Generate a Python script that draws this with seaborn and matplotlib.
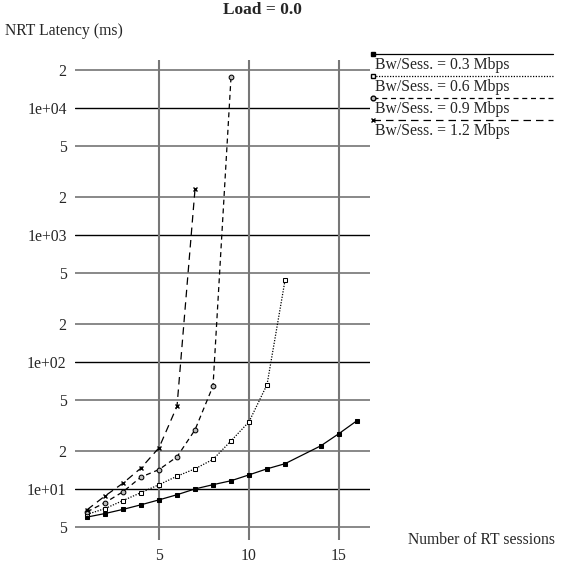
import numpy as np
import pandas as pd
import matplotlib
matplotlib.use("Agg")
import matplotlib.pyplot as plt
import seaborn as sns
from matplotlib.lines import Line2D

sns.set_style("white")
plt.rcParams["font.family"] = ["Liberation Serif", "DejaVu Serif"]

# ---- data ----
labels = ["Bw/Sess. = 0.3 Mbps", "Bw/Sess. = 0.6 Mbps",
          "Bw/Sess. = 0.9 Mbps", "Bw/Sess. = 1.2 Mbps"]
x_03 = [1, 2, 3, 4, 5, 6, 7, 8, 9, 10, 11, 12, 14, 15, 16]
y_03 = [6.0, 6.4, 6.9, 7.5, 8.2, 9.0, 10.0, 10.8, 11.6, 12.9, 14.4, 15.8, 21.9, 27.3, 34.5]
x_06 = [1, 2, 3, 4, 5, 6, 7, 8, 9, 10, 11, 12]
y_06 = [6.3, 7.0, 8.1, 9.35, 10.8, 12.6, 14.4, 17.1, 23.9, 33.8, 66.3, 440]
x_09 = [1, 2, 3, 4, 5, 6, 7, 8, 9]
y_09 = [6.6, 7.8, 9.5, 12.4, 14.2, 17.9, 29.2, 64.7, 17600]
x_12 = [1, 2, 3, 4, 5, 6, 7]
y_12 = [6.85, 8.8, 11.1, 14.6, 21.1, 44.8, 2300]
x_ticks = [5, 10, 15]
y_ticks = [5, 10, 20, 50, 100, 200, 500, 1000, 2000, 5000, 10000, 20000]
y_ticklabels = ["5", "1e+01", "2", "5", "1e+02", "2", "5", "1e+03", "2", "5", "1e+04", "2"]

xs = [x_03, x_06, x_09, x_12]
ys = [y_03, y_06, y_09, y_12]

styles = [
    dict(linestyle="-", marker="s", markerfacecolor="black", markersize=3.4),
    dict(linestyle=(0, (1, 1.2)), marker="s", markerfacecolor="white", markersize=3.4),
    dict(linestyle=(0, (4, 3)), marker="o", markerfacecolor="#bbbbbb", markersize=3.4),
    dict(linestyle=(0, (6, 4)), marker="x", markersize=3.4, markeredgewidth=1.0),
]

FS = 11.3

fig = plt.figure(figsize=(5.68, 5.71), dpi=100)
ax = fig.add_axes([75 / 568, 31 / 571, 295 / 568, 480 / 571])
ax.set_yscale("log")
ax.set_xlim(0.333, 16.72)
ax.set_ylim(3.96, 23900)

# grid
for yt in y_ticks:
    decade = abs(np.log10(yt) - round(np.log10(yt))) < 1e-9
    ax.axhline(yt, color="black" if decade else "#888888",
               lw=1.0 if decade else 1.4, zorder=1)
for xt in x_ticks:
    ax.axvline(xt, color="#777777", lw=1.5, zorder=1)

for lab, x, y, st in zip(labels, xs, ys, styles):
    df = pd.DataFrame({"x": x, "y": y})
    sns.lineplot(data=df, x="x", y="y", ax=ax, color="black", lw=0.9,
                 markeredgecolor="black", zorder=3, **st)

for s in ax.spines.values():
    s.set_visible(False)
ax.set_xticks(x_ticks)
ax.set_xticklabels([str(t) for t in x_ticks], fontsize=FS)
ax.set_yticks(y_ticks)
ax.set_yticklabels(y_ticklabels, fontsize=FS)
ax.yaxis.set_minor_locator(matplotlib.ticker.NullLocator())
ax.tick_params(axis="both", length=0, pad=6)
ax.set_xlabel("")
ax.set_ylabel("")

fig.text(262 / 568, 1 - 10 / 571, "Load = 0.0", ha="center", va="center",
         fontsize=12.5, fontweight="bold")
fig.text(5 / 568, 1 - 31 / 571, "NRT Latency (ms)", ha="left", va="center", fontsize=FS)
fig.text(408 / 568, 1 - 540 / 571, "Number of RT sessions", ha="left", va="center", fontsize=FS)

# legend (manual, at right)
for i, (lab, st) in enumerate(zip(labels, styles)):
    yl = 54 + 22 * i
    line = Line2D([373 / 568, 553 / 568], [1 - yl / 571, 1 - yl / 571],
                  transform=fig.transFigure, color="black", lw=0.9,
                  linestyle=st["linestyle"])
    fig.add_artist(line)
    mk = Line2D([373 / 568], [1 - yl / 571], transform=fig.transFigure,
                color="black", marker=st["marker"], markersize=st["markersize"],
                markerfacecolor=st.get("markerfacecolor", "black"),
                markeredgecolor="black", linestyle="none")
    fig.add_artist(mk)
    fig.text(375 / 568, 1 - (yl + 11) / 571, lab, ha="left", va="center", fontsize=FS)

fig.savefig("out.png", dpi=100)
